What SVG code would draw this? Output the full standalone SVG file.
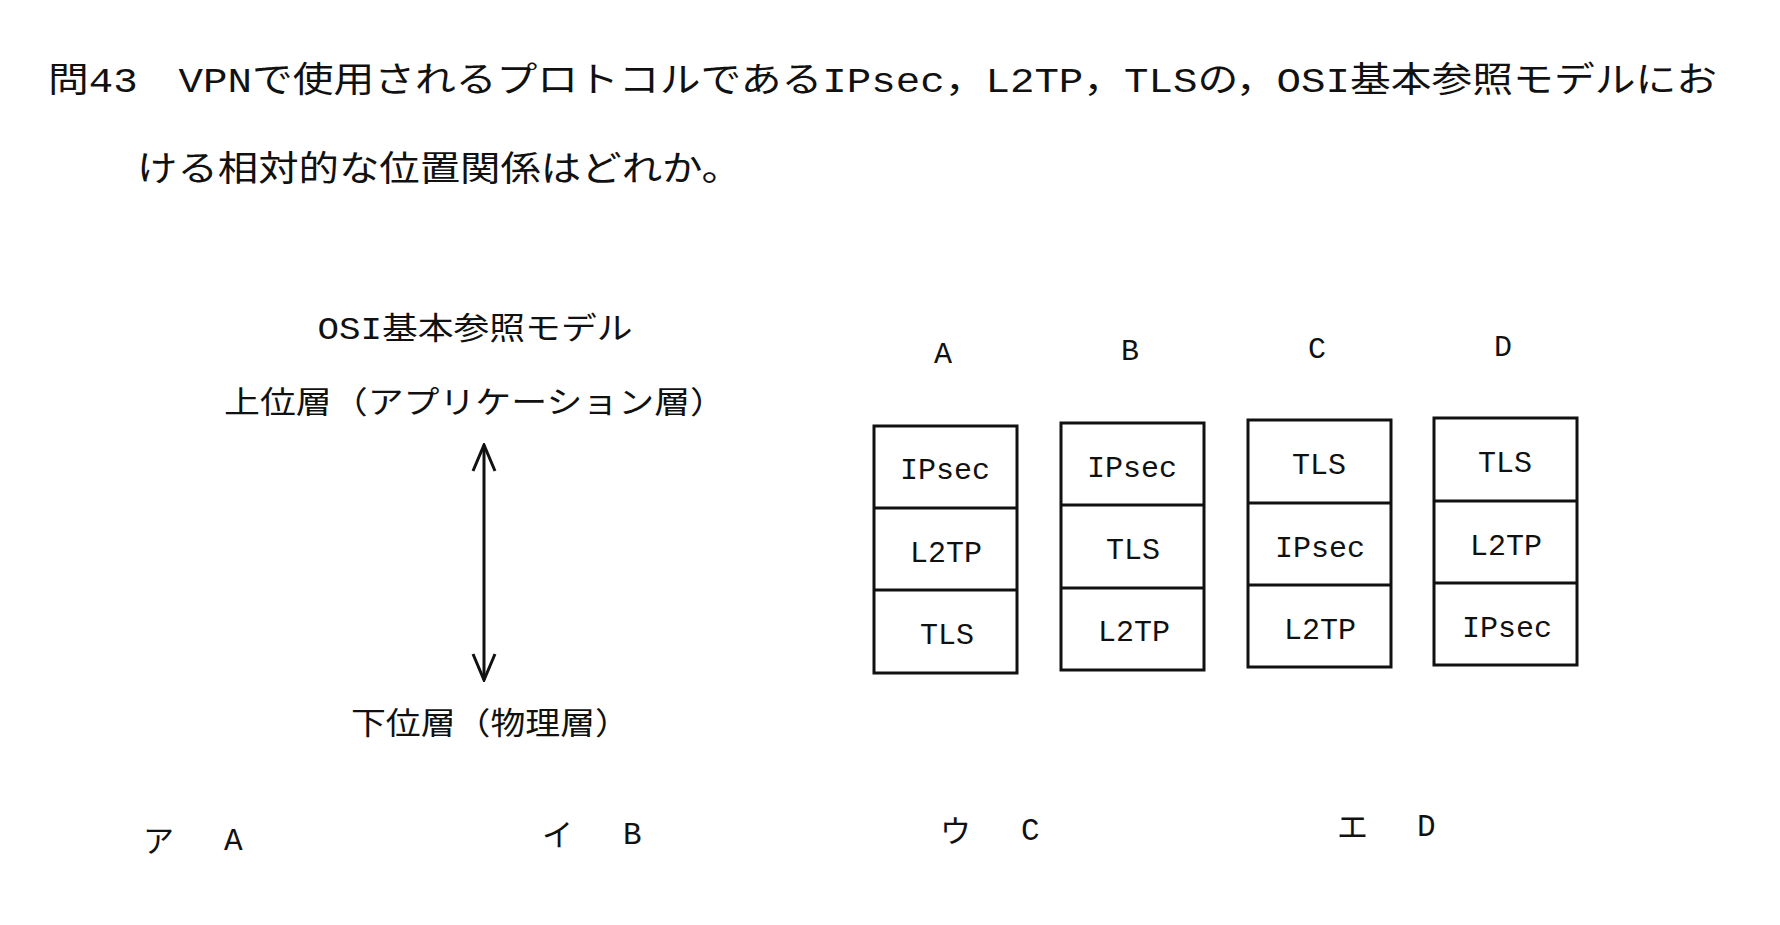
<svg xmlns="http://www.w3.org/2000/svg" width="1780" height="925" viewBox="0 0 1780 925">
<style>
text{font-family:"Liberation Mono","Noto Sans CJK JP",monospace;fill:#111}
.t{font-size:35px}
.m{font-size:31px}
.b{font-size:30px;text-anchor:middle}
.bx rect,line.d{fill:#fff;stroke:#111;stroke-width:3}
</style>
<defs><marker id="ah" viewBox="0 0 30 30" refX="28" refY="15" markerWidth="30" markerHeight="30" markerUnits="userSpaceOnUse" orient="auto-start-reverse"><path d="M2,4 L28,15 L2,26" fill="none" stroke="#111" stroke-width="3"/></marker></defs>
<rect x="0" y="0" width="1780" height="925" fill="#fff"/>
<g id="title">
<text class="t" x="48" y="92" textLength="1669" lengthAdjust="spacingAndGlyphs">問43　VPNで使用されるプロトコルであるIPsec，L2TP，TLSの，OSI基本参照モデルにお</text>
<text class="t" x="137" y="181" textLength="605" lengthAdjust="spacingAndGlyphs">ける相対的な位置関係はどれか。</text>
</g>
<g id="osi">
<text class="m" x="475" y="339" text-anchor="middle" textLength="315" lengthAdjust="spacingAndGlyphs">OSI基本参照モデル</text>
<text class="m" x="224" y="413" textLength="502" lengthAdjust="spacingAndGlyphs">上位層（アプリケーション層）</text>
<text class="m" x="351" y="734" textLength="279" lengthAdjust="spacingAndGlyphs">下位層（物理層）</text>
</g>
<g id="connectors"><line class="d" x1="484" y1="445" x2="484" y2="680" stroke-width="2.5" marker-start="url(#ah)" marker-end="url(#ah)"/></g>
<g id="A" class="bx"><text class="b" x="943" y="363">A</text><rect x="874" y="426" width="143" height="247"/><line class="d" x1="874" y1="508" x2="1017" y2="508"/><line class="d" x1="874" y1="590" x2="1017" y2="590"/><text class="b" x="945" y="479">IPsec</text><text class="b" x="946" y="562">L2TP</text><text class="b" x="947" y="644">TLS</text></g>
<g id="B" class="bx"><text class="b" x="1130" y="360">B</text><rect x="1061" y="423" width="143" height="247"/><line class="d" x1="1061" y1="505" x2="1204" y2="505"/><line class="d" x1="1061" y1="588" x2="1204" y2="588"/><text class="b" x="1132" y="477">IPsec</text><text class="b" x="1133" y="559">TLS</text><text class="b" x="1134" y="641">L2TP</text></g>
<g id="C" class="bx"><text class="b" x="1317" y="358">C</text><rect x="1248" y="420" width="143" height="247"/><line class="d" x1="1248" y1="503" x2="1391" y2="503"/><line class="d" x1="1248" y1="585" x2="1391" y2="585"/><text class="b" x="1319" y="474">TLS</text><text class="b" x="1320" y="557">IPsec</text><text class="b" x="1320" y="639">L2TP</text></g>
<g id="D" class="bx"><text class="b" x="1503" y="356">D</text><rect x="1434" y="418" width="143" height="247"/><line class="d" x1="1434" y1="501" x2="1577" y2="501"/><line class="d" x1="1434" y1="583" x2="1577" y2="583"/><text class="b" x="1505" y="472">TLS</text><text class="b" x="1506" y="555">L2TP</text><text class="b" x="1507" y="637">IPsec</text></g>
<g id="answers">
<text class="m" x="143" y="852">ア</text><text class="m" x="224" y="850">A</text>
<text class="m" x="542" y="846">イ</text><text class="m" x="623" y="844">B</text>
<text class="m" x="940" y="842">ウ</text><text class="m" x="1021" y="840">C</text>
<text class="m" x="1337" y="838">エ</text><text class="m" x="1417" y="836">D</text>
</g>
</svg>
